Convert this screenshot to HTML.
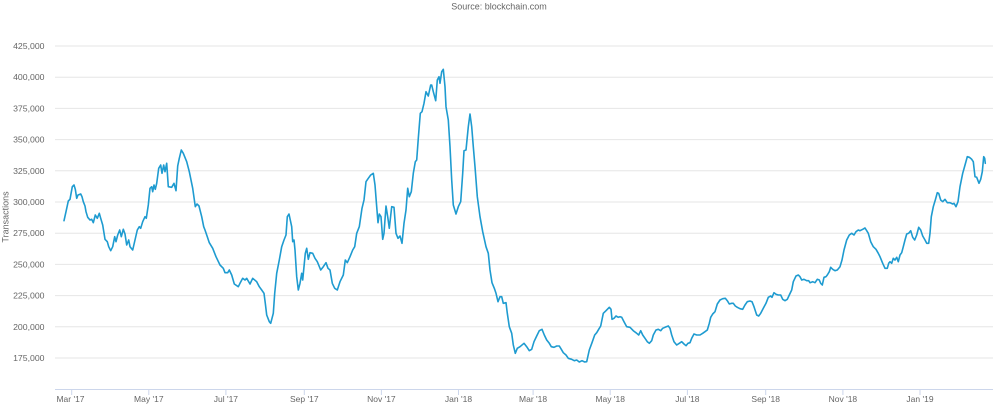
<!DOCTYPE html>
<html>
<head>
<meta charset="utf-8">
<style>
html,body{margin:0;padding:0;background:#fff;}
svg{display:block;}
text{font-family:"Liberation Sans",Arial,sans-serif;}
</style>
</head>
<body>
<svg width="1000" height="420" viewBox="0 0 1000 420" xmlns="http://www.w3.org/2000/svg">
<rect width="1000" height="420" fill="#fff"/>
<text x="499" y="9.5" text-anchor="middle" font-size="9" fill="#666">Source: blockchain.com</text>
<text transform="translate(8.5,217) rotate(-90)" text-anchor="middle" font-size="9" fill="#666">Transactions</text>
<g stroke="#e6e6e6" stroke-width="1">
<line x1="55" x2="993" y1="46" y2="46"/>
<line x1="55" x2="993" y1="77.2" y2="77.2"/>
<line x1="55" x2="993" y1="108.4" y2="108.4"/>
<line x1="55" x2="993" y1="139.6" y2="139.6"/>
<line x1="55" x2="993" y1="170.8" y2="170.8"/>
<line x1="55" x2="993" y1="202" y2="202"/>
<line x1="55" x2="993" y1="233.2" y2="233.2"/>
<line x1="55" x2="993" y1="264.4" y2="264.4"/>
<line x1="55" x2="993" y1="295.6" y2="295.6"/>
<line x1="55" x2="993" y1="326.8" y2="326.8"/>
<line x1="55" x2="993" y1="358" y2="358"/>
</g>
<line x1="55" x2="993" y1="389.5" y2="389.5" stroke="#ccd6eb" stroke-width="1"/>
<g stroke="#ccd6eb" stroke-width="1">
<line x1="71.7" x2="71.7" y1="389" y2="395"/>
<line x1="148.8" x2="148.8" y1="389" y2="395"/>
<line x1="225.9" x2="225.9" y1="389" y2="395"/>
<line x1="304.3" x2="304.3" y1="389" y2="395"/>
<line x1="381.4" x2="381.4" y1="389" y2="395"/>
<line x1="458.5" x2="458.5" y1="389" y2="395"/>
<line x1="533.1" x2="533.1" y1="389" y2="395"/>
<line x1="610.2" x2="610.2" y1="389" y2="395"/>
<line x1="687.4" x2="687.4" y1="389" y2="395"/>
<line x1="765.7" x2="765.7" y1="389" y2="395"/>
<line x1="842.9" x2="842.9" y1="389" y2="395"/>
<line x1="920" x2="920" y1="389" y2="395"/>
</g>
<g font-size="8.7" fill="#666" text-anchor="end">
<text x="44.5" y="49">425,000</text>
<text x="44.5" y="80.2">400,000</text>
<text x="44.5" y="111.4">375,000</text>
<text x="44.5" y="142.6">350,000</text>
<text x="44.5" y="173.8">325,000</text>
<text x="44.5" y="205">300,000</text>
<text x="44.5" y="236.2">275,000</text>
<text x="44.5" y="267.4">250,000</text>
<text x="44.5" y="298.6">225,000</text>
<text x="44.5" y="329.8">200,000</text>
<text x="44.5" y="361">175,000</text>
</g>
<g font-size="8.5" fill="#666" text-anchor="middle">
<text x="70.5" y="402">Mar '17</text>
<text x="148.8" y="402">May '17</text>
<text x="225.9" y="402">Jul '17</text>
<text x="304.3" y="402">Sep '17</text>
<text x="381.4" y="402">Nov '17</text>
<text x="458.5" y="402">Jan '18</text>
<text x="533.1" y="402">Mar '18</text>
<text x="610.2" y="402">May '18</text>
<text x="687.4" y="402">Jul '18</text>
<text x="765.7" y="402">Sep '18</text>
<text x="842.9" y="402">Nov '18</text>
<text x="920" y="402">Jan '19</text>
</g>
<polyline fill="none" stroke="#1e9bd0" stroke-width="1.6" stroke-linejoin="round" stroke-linecap="round" points="64,220.7 66,211.7 68.3,201 70,199.3 72.3,186.7 74,185 75.3,189.3 76.7,198.3 78,195 80.7,194 82,196.7 83.3,201.7 85,206 86,211.7 87.7,217.3 90,220 91.7,219.3 93.3,222.7 95.3,215 97.3,218.3 99.3,213.3 100.7,218.3 102.7,225 105,239.3 107.3,241.7 108.7,246.7 110.7,250.7 112.7,246.7 114.7,236.7 116,241.7 117.7,235 119.7,230 121.3,236.7 123.3,229.3 125,234 126.7,245 128.7,240 130,246.7 132.7,250 135,240 137.3,230 139.3,226.7 140.7,228.3 142.7,221.7 145,216.7 146.3,218.3 148.3,205 150,188.3 151.7,186.7 152.7,191.7 154,185 155.3,189.3 156.7,183.3 158.7,168.3 160.7,165 162,173.3 163.7,165 165,171.7 166.7,163.3 168.3,186.7 171.7,187.3 174,183.3 176,190.7 177.7,166 179.3,158.3 181.3,150 183.3,153.3 186.7,161.7 189.3,171.7 192.7,188.3 195.3,206.7 197,204 199,206 201.7,216.7 203.7,226.7 205,230 207.3,236.7 209.3,242.7 212.7,248.3 216,256.7 220,265 223.3,268.3 225,272.7 227.7,272.7 229.3,270 231.7,275 234.3,284 238.3,286.7 240,283.3 242.7,278.3 245,280 246.7,278.3 250,284 252.7,278.3 256.7,281.7 259.3,286.7 261.7,290 264,293.3 265.3,303.3 266.7,315 269.3,321.7 270.7,323.3 273.3,313.3 274.7,293.3 276.7,273.3 279.3,260 281.7,246.7 284,240 286,235 287.3,216.7 289,214 291.7,226.7 292.7,241.7 294,240 295,250 296.7,276.7 298.3,290 300,283.3 301.7,273.3 302.7,280 305.3,253.3 306.7,248.3 308.3,259.3 310,252.7 312.7,253.3 315,258.3 317.3,261.7 320.7,270 323.3,266.7 326,262.7 328,268.3 330,270 332.3,283.3 334.7,288.3 337.3,290 340,281.7 343.3,275 345.3,260 347.3,262.7 350,256.7 352.7,250 354.7,246.7 356.7,233.3 359.3,226.7 362,208.3 364,200 366,181.7 368.3,178.3 370.7,175 373.3,173.3 375,185 376.7,206.7 378,222.7 379.3,214 381,216.7 382.7,239.3 384,233.3 386,206 387.7,216.7 389.3,228.3 391.7,206.7 394,207.3 396,233.3 398,238.3 400,236 402,243.3 404,223.3 406,210 407.7,188.3 409.3,196.7 411.3,191.7 413.3,173.3 415.3,161.7 416.7,160 418.3,138.3 420.3,113.3 422,111.7 424,103.3 426,91.7 428.3,96 430.7,85 431.7,85 433.3,91.7 435.7,100.7 437.3,80 439,76.7 440,83.3 441.7,71.7 443.3,69.3 445,86.7 446,106.7 448.3,120 450,146.7 451.7,180 453.3,205 456,214 458.3,206.7 460.7,201.7 462.7,173.3 464,150.7 466,150 468.3,126.7 470,114 471.7,126.7 473.3,146.7 475,166.7 477.3,196.7 480,216.7 482.7,231.7 486,246.7 488.3,253.3 490,270 492,282.7 494.3,288.3 496,293.3 498,301.7 500,296.7 501.7,296.7 503.3,303.3 506,302.7 507.3,313.3 509.3,326.7 511.7,333.3 513.3,345 515.3,353.3 517.3,348.3 520,346.7 524,343.3 526.7,346.7 529.3,350.7 531.7,349.3 534,341.7 536.7,336 539.3,330.7 542,329.3 544.3,335 546.7,340 549.3,343.3 551.3,346.7 554,347.3 556.7,346 559.3,346 561.3,349.3 563.3,352.7 566,355 568.3,358.3 571.7,359.3 574.3,360.7 576.7,360 579.3,362 582,360.7 584.7,362 586.7,361.7 589.3,350 592,342.7 594.7,335 596.7,332.7 598.7,329.3 600.7,326 603.3,313.3 606,310.7 609.3,307.3 611,309.3 612,319.3 614,318.3 616,316 618.3,317.3 620,316.7 621.7,317.3 624,321.7 626.7,326.7 630,327.3 633.3,330.7 636.7,333.3 638.7,335 640.7,330.7 642.7,335 645,338.3 647.3,341.7 649.3,343.3 651.7,340.7 653.3,335 656,330 658.3,329.3 660.7,330.7 662.7,328.3 665,327.3 668.3,326 670,328.3 671.7,335 674,341.7 676.7,345 679.3,343.3 681.7,341.7 684,344 686,345.7 688,343.3 690,342.7 691.7,338.3 694,334 696.7,335 700,335 702.7,333.3 705,331.7 707.3,330 709.3,323.3 710.7,317.3 712.7,314 715,311.7 717.3,304 720,300 722.7,298.7 725.3,298.3 727.3,300.7 729.3,304 731.7,303.3 733.3,303.3 735.3,306 737.3,307.3 740,308.7 742.7,309.3 745,305 747.3,301.7 750,301 752,301.7 754,306.7 756.7,315 758.7,316 760.7,313.3 763.3,308.3 766,303.3 768.3,297.3 770.7,296 772,297.3 774,292.7 776,294.3 778.3,295 780.7,295 782.7,299.3 785,300.7 787.3,299.3 789.3,295 791.7,290 793.3,281.7 796,276 798.3,275 800,276.7 801.7,280 804,279.3 806.7,280.7 808.7,280.7 810,282.7 812.7,281.7 815,282.7 817.3,279.3 819.3,280 820.7,283.3 822.3,285 824,277.3 826,276.7 827.3,275 829.3,271.7 830.7,267.3 832.7,269.3 835,270.7 837.3,270 840,266.7 842,260 844,250 846.7,240 849.3,235 851.7,233.3 854,235 856,231.7 858.3,230 860,230.7 862.7,229.3 865,228 866.7,230.7 868.3,233.3 870.7,241.7 873.3,246.7 876,249.3 878.3,253.3 880,256.7 882.7,263.3 885,268.3 887.3,268.3 888.7,263.3 890,261.7 891.7,263.3 893.3,258.3 895,260 896.7,257.3 898.3,261.7 900,255 901.7,252.7 903.3,246.7 905,240 906.7,234 908.7,233.3 910.7,230.7 912.7,237.3 914.7,240 916.7,235 918.7,227.3 920.7,230 922.7,236 925,240 926.7,243.3 928.7,243.3 930,233.3 931.3,216.7 933.3,206.7 935.3,200 937.3,192.7 938.7,193.3 940.7,200 942.7,201.7 945,199.3 947.3,202.7 950,202.7 952.7,204 954,203.3 956,206.7 958,201.7 960,186.7 962.7,173.3 965.3,164 967.3,156.7 969.3,157.3 971.7,159.3 973.3,161.7 975,176.7 976.7,177.3 979,183.3 980.7,179.3 982.3,171.7 983.7,156.7 984.7,158.3 985.3,163.3"/>
</svg>
</body>
</html>
